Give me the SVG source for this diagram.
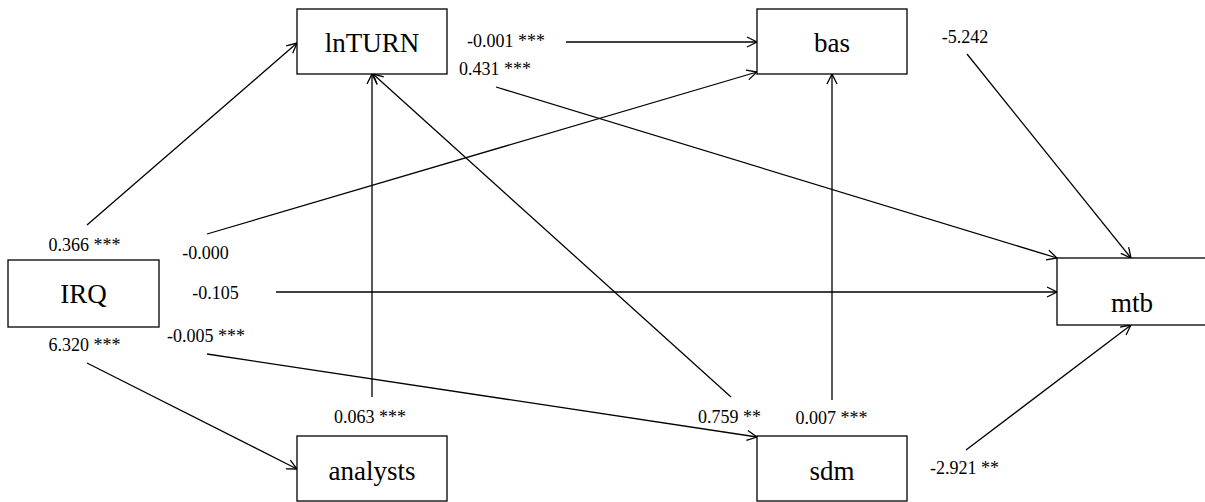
<svg xmlns="http://www.w3.org/2000/svg" width="1205" height="502" viewBox="0 0 1205 502">
<style>
.box{fill:#fff;stroke:#000;stroke-width:1.3}
.nt{font-family:'Liberation Serif','Times New Roman',Times,'DejaVu Serif',serif;font-size:27px;text-anchor:middle;fill:#000}
.lb{font-family:'Liberation Serif','Times New Roman',Times,'DejaVu Serif',serif;font-size:18px;text-anchor:middle;fill:#000}
.cn{stroke:#000;stroke-width:1.3;fill:none;marker-end:url(#arr)}
</style>
<defs>
<marker id="arr" markerUnits="userSpaceOnUse" markerWidth="14" markerHeight="14" refX="11" refY="6" orient="auto">
<path d="M1,1 L11,6 L1,11" fill="none" stroke="#000" stroke-width="1.3"/>
</marker>
</defs>
<rect width="1205" height="502" fill="#fff"/>
<g id="connectors">
<line class="cn" x1="87" y1="225" x2="297" y2="43"/>
<line class="cn" x1="207" y1="234" x2="757" y2="72"/>
<line class="cn" x1="276" y1="292" x2="1057" y2="292"/>
<line class="cn" x1="207" y1="354" x2="757" y2="437"/>
<line class="cn" x1="87" y1="363" x2="297" y2="469"/>
<line class="cn" x1="372" y1="397" x2="372" y2="74"/>
<line class="cn" x1="731" y1="397" x2="373" y2="74"/>
<line class="cn" x1="832" y1="400" x2="832" y2="74"/>
<line class="cn" x1="566" y1="42" x2="757" y2="42"/>
<line class="cn" x1="496" y1="87" x2="1057" y2="258"/>
<line class="cn" x1="967" y1="54" x2="1131" y2="258"/>
<line class="cn" x1="966" y1="450" x2="1131" y2="325"/>
</g>
<g id="labels">
<text class="lb" x="84.5" y="251">0.366 ***</text>
<text class="lb" x="205.5" y="259">-0.000</text>
<text class="lb" x="215.5" y="299">-0.105</text>
<text class="lb" x="206" y="342">-0.005 ***</text>
<text class="lb" x="84.5" y="351">6.320 ***</text>
<text class="lb" x="506" y="47">-0.001 ***</text>
<text class="lb" x="495" y="75">0.431 ***</text>
<text class="lb" x="965" y="43">-5.242</text>
<text class="lb" x="370" y="423">0.063 ***</text>
<text class="lb" x="729.5" y="423">0.759 **</text>
<text class="lb" x="831.5" y="424">0.007 ***</text>
<text class="lb" x="964.5" y="474">-2.921 **</text>
</g>
<g id="IRQ"><rect class="box" x="8" y="260" width="151" height="67"/><text class="nt" x="83.5" y="303">IRQ</text></g>
<g id="lnTURN"><rect class="box" x="297" y="9" width="150" height="65"/><text class="nt" x="372" y="52">lnTURN</text></g>
<g id="bas"><rect class="box" x="757" y="9" width="150" height="65"/><text class="nt" x="832" y="52">bas</text></g>
<g id="mtb"><rect class="box" x="1057" y="258" width="150" height="67"/><text class="nt" x="1132" y="312">mtb</text></g>
<g id="analysts"><rect class="box" x="297" y="436" width="150" height="65"/><text class="nt" x="372" y="480">analysts</text></g>
<g id="sdm"><rect class="box" x="757" y="436" width="150" height="65"/><text class="nt" x="832" y="480">sdm</text></g>
</svg>
